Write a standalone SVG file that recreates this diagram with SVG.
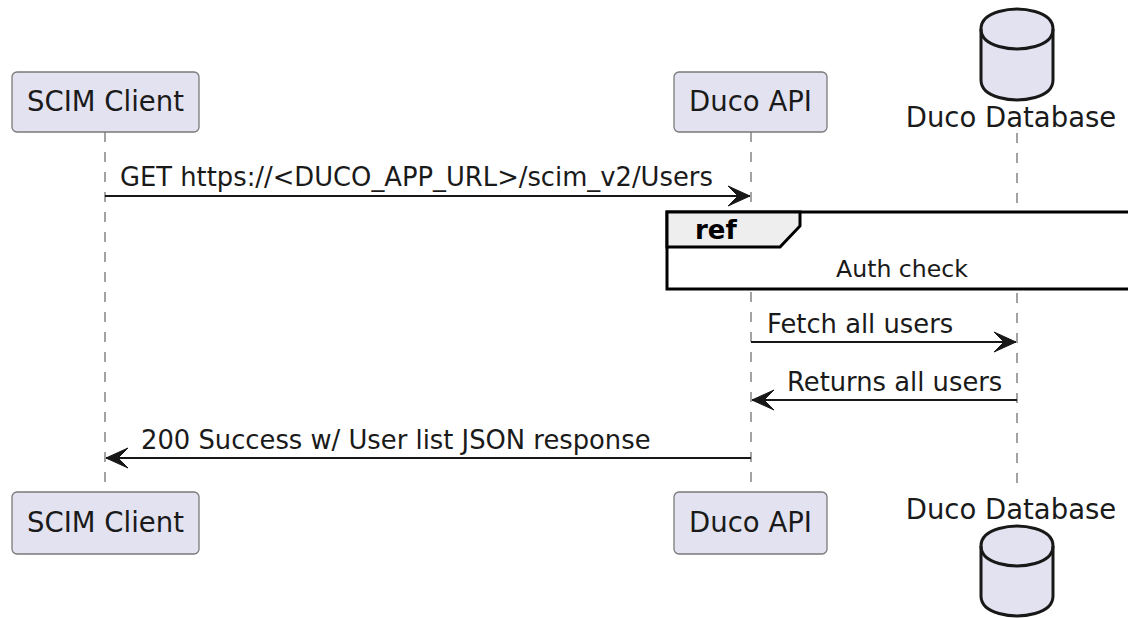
<svg xmlns="http://www.w3.org/2000/svg" width="1128" height="618" viewBox="0 0 1128 618">
<style>
.part{fill:#E2E2F0;stroke:#7a7a7a;stroke-width:1.3}
.pt{font-family:"DejaVu Sans",sans-serif;font-size:27.5px;fill:#1a1a1a;text-anchor:middle}
.mt{font-family:"DejaVu Sans",sans-serif;font-size:25.8px;fill:#1a1a1a}
.life{stroke:#666;stroke-width:1.2;stroke-dasharray:10,10;fill:none}
.msg{stroke:#181818;stroke-width:2;fill:none}
.db{fill:#E2E2F0;stroke:#181818;stroke-width:3}
</style>
<defs>
<marker id="ah" markerUnits="userSpaceOnUse" markerWidth="26" markerHeight="24" refX="22" refY="12" orient="auto">
<polygon points="0,2 22,12 0,22 10,12" fill="#181818" stroke="#181818" stroke-width="1"/>
</marker>
</defs>
<g id="lifelines">
<line class="life" x1="105" y1="132" x2="105" y2="492"/>
<line class="life" x1="751" y1="132" x2="751" y2="492"/>
<line class="life" x1="1017" y1="133" x2="1017" y2="492"/>
</g>
<g id="scim-top"><rect class="part" x="12" y="72" width="187" height="60" rx="5"/><text class="pt" x="105.5" y="111">SCIM Client</text></g>
<g id="api-top"><rect class="part" x="674" y="72" width="153" height="60" rx="5"/><text class="pt" x="750.5" y="111">Duco API</text></g>
<g id="db-top"><path class="db" d="M981,29 C981,9 1017,9 1017,9 C1017,9 1053,9 1053,29 L1053,80 C1053,100 1017,100 1017,100 C1017,100 981,100 981,80 Z"/><path class="db" style="fill:none" d="M981,29 C981,49 1017,49 1017,49 C1017,49 1053,49 1053,29"/><text class="pt" x="1011" y="127">Duco Database</text></g>
<g id="scim-bottom"><rect class="part" x="12" y="492" width="187" height="62" rx="5"/><text class="pt" x="105.5" y="532">SCIM Client</text></g>
<g id="api-bottom"><rect class="part" x="674" y="492" width="153" height="62" rx="5"/><text class="pt" x="750.5" y="532">Duco API</text></g>
<g id="db-bottom"><text class="pt" x="1011" y="519">Duco Database</text><path class="db" d="M981,546 C981,526 1017,526 1017,526 C1017,526 1053,526 1053,546 L1053,596 C1053,616 1017,616 1017,616 C1017,616 981,616 981,596 Z"/><path class="db" style="fill:none" d="M981,546 C981,566 1017,566 1017,566 C1017,566 1053,566 1053,546"/></g>
<g id="ref">
<rect x="667" y="212" width="480" height="77" fill="#fff" stroke="#000" stroke-width="3"/>
<path d="M667,212 L800,212 L800,226 L780,247 L667,247 Z" fill="#EEEEEE" stroke="#000" stroke-width="3"/>
<text x="695" y="239" style="font-family:'DejaVu Sans',sans-serif;font-size:26px;font-weight:bold;fill:#000">ref</text>
<text x="902" y="277" text-anchor="middle" style="font-family:'DejaVu Sans',sans-serif;font-size:23.6px;fill:#1a1a1a">Auth check</text>
</g>
<g id="connectors">
<line class="msg" x1="105" y1="196" x2="750" y2="196" marker-end="url(#ah)"/>
<text class="mt" x="120" y="186">GET https://&lt;DUCO_APP_URL&gt;/scim_v2/Users</text>
<line class="msg" x1="751" y1="342" x2="1016" y2="342" marker-end="url(#ah)"/>
<text class="mt" x="767" y="333">Fetch all users</text>
<line class="msg" x1="1017" y1="400" x2="752" y2="400" marker-end="url(#ah)"/>
<text class="mt" x="787" y="391">Returns all users</text>
<line class="msg" x1="751" y1="458" x2="106" y2="458" marker-end="url(#ah)"/>
<text class="mt" x="141" y="449">200 Success w/ User list JSON response</text>
</g>
</svg>
